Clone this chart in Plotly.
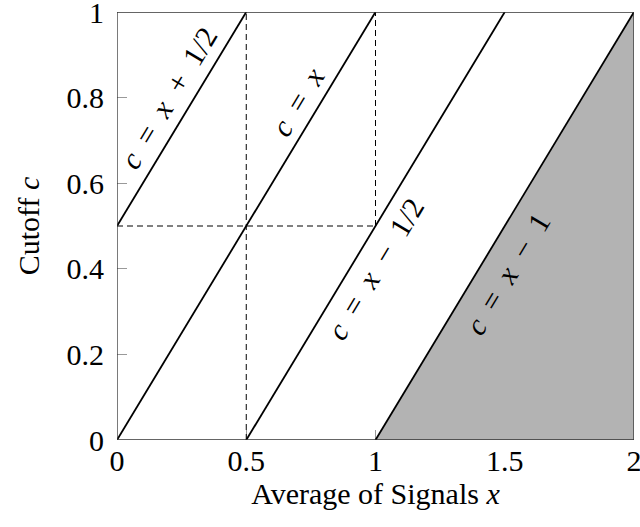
import plotly.graph_objects as go

# Cutoff lines c = x + b, drawn between their entry and exit of the unit box
offsets = [0.5, 0.0, -0.5, -1.0]
x_start = [0.0, 0.0, 0.5, 1.0]
x_end = [0.5, 1.0, 1.5, 2.0]
SP = "\u2002"
line_labels = [
    f"<i>c</i>{SP}={SP}<i>x</i>{SP}+{SP}1/2",
    f"<i>c</i>{SP}={SP}<i>x</i>",
    f"<i>c</i>{SP}={SP}<i>x</i>{SP}−{SP}1/2",
    f"<i>c</i>{SP}={SP}<i>x</i>{SP}−{SP}1",
]
label_x = [0.20, 0.70, 1.00, 1.51]
label_y = [0.80, 0.79, 0.40, 0.39]

# Shaded region below c = x - 1
shade_x = [1.0, 2.0, 2.0, 1.0]
shade_y = [0.0, 0.0, 1.0, 0.0]

# Dashed guide lines (x0, y0, x1, y1)
guide_x0 = [0.5, 1.0, 0.0]
guide_y0 = [0.0, 0.5, 0.5]
guide_x1 = [0.5, 1.0, 1.0]
guide_y1 = [1.0, 1.0, 0.5]

x_ticks = [0, 0.5, 1, 1.5, 2]
y_ticks = [0, 0.2, 0.4, 0.6, 0.8, 1]

FONT = "Liberation Serif"
FS = 30

fig = go.Figure()

fig.add_trace(go.Scatter(
    x=shade_x, y=shade_y, mode="lines", fill="toself",
    fillcolor="#b3b3b3", line=dict(width=0), hoverinfo="skip",
))

for gx0, gy0, gx1, gy1 in zip(guide_x0, guide_y0, guide_x1, guide_y1):
    fig.add_trace(go.Scatter(
        x=[gx0, gx1], y=[gy0, gy1], mode="lines",
        line=dict(color="black", width=1, dash="6px,4px"),
        hoverinfo="skip",
    ))

for b, xs, xe in zip(offsets, x_start, x_end):
    fig.add_trace(go.Scatter(
        x=[xs, xe], y=[xs + b, xe + b], mode="lines",
        line=dict(color="black", width=1.8), hoverinfo="skip",
    ))

for txt, lx, ly in zip(line_labels, label_x, label_y):
    fig.add_annotation(
        x=lx, y=ly, text=txt, showarrow=False, textangle=-58.9,
        font=dict(family=FONT, size=FS, color="black"),
    )

# Frame drawn on top of the fill
fig.add_shape(type="rect", xref="x", yref="y", x0=0, y0=0, x1=2, y1=1,
              line=dict(color="#333333", width=1.3), layer="above")

fig.update_layout(
    width=640, height=527,
    margin=dict(l=117, r=6, t=12, b=87),
    paper_bgcolor="white", plot_bgcolor="white",
    showlegend=False,
    font=dict(family=FONT, size=FS, color="black"),
)
fig.update_xaxes(
    range=[0, 2], tickvals=x_ticks, ticks="inside", ticklen=10,
    tickcolor="#999999", tickwidth=1, showgrid=False, zeroline=False,
    showline=False, layer="below traces", ticklabelstandoff=0,
    automargin=False, ticklabeloverflow="allow",
    title=dict(text="Average of Signals <i>x</i>", standoff=6,
               font=dict(family=FONT, size=FS)),
    tickfont=dict(family=FONT, size=FS),
)
fig.update_yaxes(
    range=[0, 1], tickvals=y_ticks, ticks="inside", ticklen=10,
    tickcolor="#999999", tickwidth=1, showgrid=False, zeroline=False,
    showline=False, layer="below traces", ticklabelstandoff=12,
    automargin=False, ticklabeloverflow="allow",
    title=dict(text="Cutoff <i>c</i>", standoff=18,
               font=dict(family=FONT, size=FS)),
    tickfont=dict(family=FONT, size=FS),
)

fig.write_html("out.html")
